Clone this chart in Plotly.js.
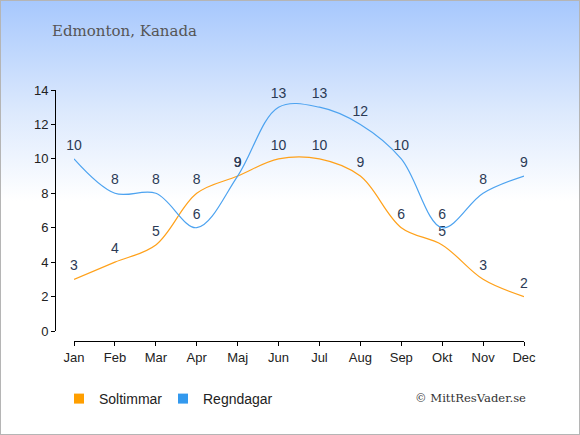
<!DOCTYPE html>
<html>
<head>
<meta charset="utf-8">
<script src="https://cdn.plot.ly/plotly-3.0.1.min.js"></script>
<style>
html,body{margin:0;padding:0;}
#wrap{width:580px;height:435px;box-sizing:border-box;border:1px solid #b5b5b5;
background:linear-gradient(to bottom,#a7c8fd 0px,#dce9fd 110px,#ffffff 200px,#ffffff 435px);position:relative;overflow:hidden;}
#chart{position:absolute;left:-1px;top:-1px;width:580px;height:435px;}
</style>
</head>
<body>
<div id="wrap"><div id="chart"></div></div>
<script>
var months = ["Jan","Feb","Mar","Apr","Maj","Jun","Jul","Aug","Sep","Okt","Nov","Dec"];
var soltimmar = [3,4,5,8,9,10,10,9,6,5,3,2];
var regndagar = [10,8,8,6,9,13,13,12,10,6,8,9];
var yTicks = [0,2,4,6,8,10,12,14];
var seriesNames = ["Soltimmar","Regndagar"];
var lineColors = ["#ffa11a","#4da3f0"];
var legendColors = ["#ff9f00","#3399ee"];

var W = 580, H = 435;
function px(x){return x/W;}
function py(y){return 1 - y/H;}

var labelFont = {family:"Liberation Sans, Arial, sans-serif", size:14, color:"#2b3a55"};
var hiddenMarker = {size:7, opacity:0};

var traces = [
  {x:months, y:soltimmar, type:"scatter", mode:"lines+markers+text", text:soltimmar.map(String),
   textposition:"top center", textfont:labelFont, cliponaxis:false, marker:hiddenMarker,
   line:{color:lineColors[0], width:1.2, shape:"spline", smoothing:1}, showlegend:false, hoverinfo:"skip"},
  {x:months, y:regndagar, type:"scatter", mode:"lines+markers+text", text:regndagar.map(String),
   textposition:"top center", textfont:labelFont, cliponaxis:false, marker:hiddenMarker,
   line:{color:lineColors[1], width:1.2, shape:"spline", smoothing:1}, showlegend:false, hoverinfo:"skip"},
  {x:[null], y:[null], type:"scatter", mode:"markers", name:seriesNames[0],
   marker:{symbol:"square", size:10, color:legendColors[0]}, legend:"legend"},
  {x:[null], y:[null], type:"scatter", mode:"markers", name:seriesNames[1],
   marker:{symbol:"square", size:10, color:legendColors[1]}, legend:"legend2"}
];

var legendFont = {family:"Liberation Sans, Arial, sans-serif", size:14, color:"#222"};

var layout = {
  width:W, height:H,
  margin:{l:0,r:0,t:0,b:0,pad:0},
  paper_bgcolor:"rgba(0,0,0,0)",
  plot_bgcolor:"rgba(0,0,0,0)",
  title:{text:"Edmonton, Kanada", x:px(52), xanchor:"left", xref:"paper",
         y:py(31), yanchor:"middle", yref:"paper",
         font:{family:"DejaVu Serif, serif", size:15, color:"#555555"}},
  xaxis:{domain:[px(74),px(524)], range:[0,11], type:"category",
         anchor:"free", position:py(341),
         showline:true, linecolor:"#000", linewidth:1,
         ticks:"outside", ticklen:4, tickcolor:"#000",
         showgrid:false, zeroline:false, fixedrange:true,
         tickfont:{family:"Liberation Sans, Arial, sans-serif", size:13, color:"#222"}},
  yaxis:{domain:[py(331),py(90)], range:[0,14], tickvals:yTicks,
         anchor:"free", position:px(55),
         showline:true, linecolor:"#000", linewidth:1,
         ticks:"outside", ticklen:4, tickcolor:"#000",
         showgrid:false, zeroline:false, fixedrange:true,
         tickfont:{family:"Liberation Sans, Arial, sans-serif", size:13, color:"#222"}},
  legend:{x:px(59), xanchor:"left", y:py(399), yanchor:"middle", orientation:"h",
          bgcolor:"rgba(0,0,0,0)", font:legendFont, itemclick:false},
  legend2:{x:px(163), xanchor:"left", y:py(399), yanchor:"middle", orientation:"h",
          bgcolor:"rgba(0,0,0,0)", font:legendFont, itemclick:false},
  annotations:[
    {text:"© MittResVader.se", xref:"paper", yref:"paper", x:px(528), xanchor:"right",
     y:py(398), yanchor:"middle", showarrow:false,
     font:{family:"DejaVu Serif, serif", size:11.6, color:"#333"}}
  ]
};

Plotly.newPlot("chart", traces, layout, {displayModeBar:false, staticPlot:true});
</script>
</body>
</html>
